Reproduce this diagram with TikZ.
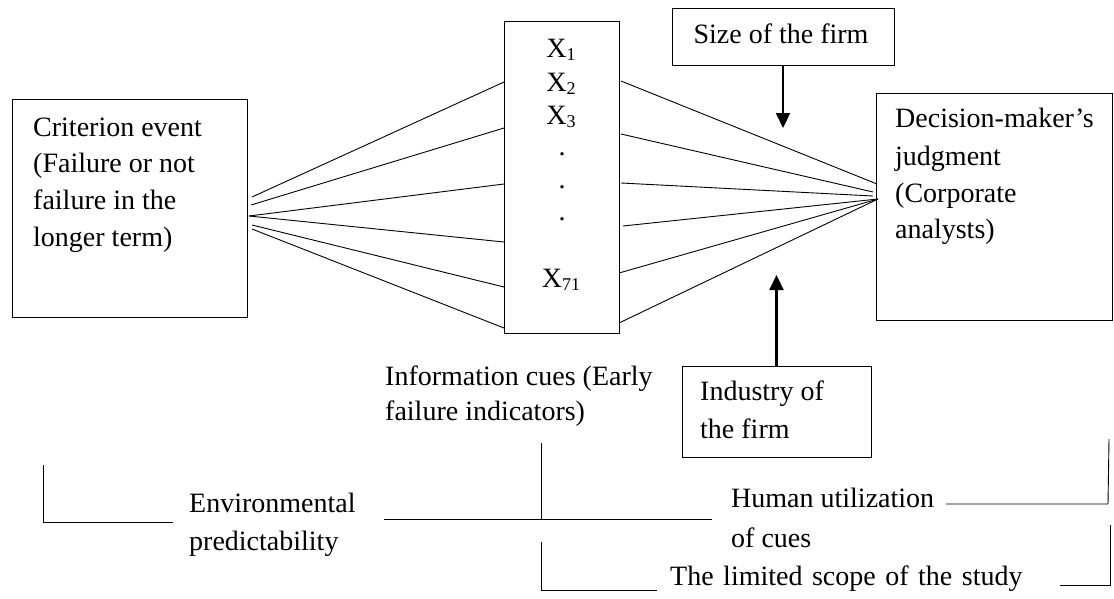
\documentclass[tikz,border=0pt]{standalone}
\usepackage{fontspec}
\setmainfont{Liberation Serif}
\usetikzlibrary{arrows.meta}
\newcommand{\sbs}[1]{\raisebox{-0.25ex}{\fontsize{18pt}{18pt}\selectfont #1}}
\begin{document}
\begin{tikzpicture}[x=1pt,y=-1pt,
  box/.style={draw, line width=1pt, inner sep=0pt},
  txt/.style={anchor=base west, inner sep=0pt, font=\fontsize{28pt}{34pt}\selectfont},
  ctxt/.style={anchor=base, inner sep=0pt, font=\fontsize{28pt}{34pt}\selectfont},
  ln/.style={line width=0.9pt},
  thk/.style={line width=2.2pt, -{Triangle[length=15pt,width=14pt]}}]
\useasboundingbox (0,0) rectangle (1114,598);

% boxes
\node[box, minimum width=235pt, minimum height=218pt] (crit) at (129.5,208) {};
\node[box, minimum width=115pt, minimum height=312pt] (cues) at (561.5,177) {};
\node[box, minimum width=236pt, minimum height=227pt] (dec) at (994,206.5) {};
\node[box, minimum width=222pt, minimum height=57pt] (size) at (783,36.5) {};
\node[box, minimum width=189pt, minimum height=91pt] (ind) at (776.5,411.5) {};

% texts
\node[txt] (c1) at (33,136) {Criterion event};
\node[txt] (c2) at (33,172) {(Failure or not};
\node[txt] (c3) at (33,209) {failure in the};
\node[txt] (c4) at (33,246) {longer term)};

\node[txt] (d1) at (895,127) {Decision-maker’s};
\node[txt] (d2) at (895,165) {judgment};
\node[txt] (d3) at (895,202) {(Corporate};
\node[txt] (d4) at (895,238) {analysts)};

\node[ctxt] (s1) at (781,43) {Size of the firm};

\node[ctxt] (x1) at (561,57) {X\sbs{1}};
\node[ctxt] (x2) at (561,91) {X\sbs{2}};
\node[ctxt] (x3) at (561,124) {X\sbs{3}};
\node[ctxt] (dt1) at (562,155) {.};
\node[ctxt] (dt2) at (562,188) {.};
\node[ctxt] (dt3) at (562,220) {.};
\node[ctxt] (x71) at (561,287) {X\sbs{71}};

\node[txt] (i1) at (700,400) {Industry of};
\node[txt] (i2) at (700,438) {the firm};

\node[txt] (ic1) at (385,385) {Information cues (Early};
\node[txt] (ic2) at (385,420) {failure indicators)};

\node[txt] (e1) at (189,512) {Environmental};
\node[txt] (e2) at (189,550) {predictability};

\node[txt] (h1) at (731,507) {Human utilization};
\node[txt] (h2) at (731,547) {of cues};

\node[txt] (l1) at (670,585) {\spaceskip=9.5pt\relax The limited scope of the study};

% fan from criterion box to cue box
\coordinate (a1) at (252,197); \coordinate (b1) at (504,82);
\coordinate (a2) at (251,205); \coordinate (b2) at (504,128);
\coordinate (a3) at (249,216); \coordinate (b3) at (504,184);
\coordinate (a4) at (249,216); \coordinate (b4) at (504,242);
\coordinate (a5) at (252,225); \coordinate (b5) at (504,287);
\coordinate (a6) at (252,229); \coordinate (b6) at (504,328);
\foreach \i in {1,...,6} \draw[ln] (a\i) -- (b\i);

% fan from cue box to decision box
\coordinate (p1) at (621,81);  \coordinate (q1) at (877,184);
\coordinate (p2) at (621,134); \coordinate (q2) at (873,192);
\coordinate (p3) at (621,183); \coordinate (q3) at (873,196);
\coordinate (p4) at (623,226); \coordinate (q4) at (878,199);
\coordinate (p5) at (619,273); \coordinate (q5) at (878,199);
\coordinate (p6) at (619,323); \coordinate (q6) at (878,199);
\foreach \i in {1,...,6} \draw[ln] (p\i) -- (q\i);

% arrows
\coordinate (sizetip) at (783,128);
\coordinate (indtip) at (776.5,275);
\draw[thk] (size.south) -- (sizetip);
\draw[thk] (ind.north) -- (indtip);

% bottom brackets
\coordinate (e0) at (43,465); \coordinate (e00) at (43,522); \coordinate (e01) at (173,522);
\draw[ln] (e0) -- (e00) -- (e01);
\coordinate (m0) at (384,519); \coordinate (m1) at (712,519);
\draw[ln] (m0) -- (m1);
\coordinate (v0) at (541,443); \coordinate (v1) at (541,519);
\draw[ln] (v0) -- (v1);
\coordinate (w0) at (541,542); \coordinate (w1) at (541,590); \coordinate (w2) at (657,590);
\draw[ln] (w0) -- (w1) -- (w2);
\coordinate (r0) at (946,504); \coordinate (r1) at (1108,504); \coordinate (r2) at (1109,439);
\draw[ln] (r0) -- (r1) -- (r2);
\coordinate (t0) at (1060,585); \coordinate (t1) at (1110,585); \coordinate (t2) at (1110,525);
\draw[ln] (t0) -- (t1) -- (t2);
\end{tikzpicture}
\end{document}
